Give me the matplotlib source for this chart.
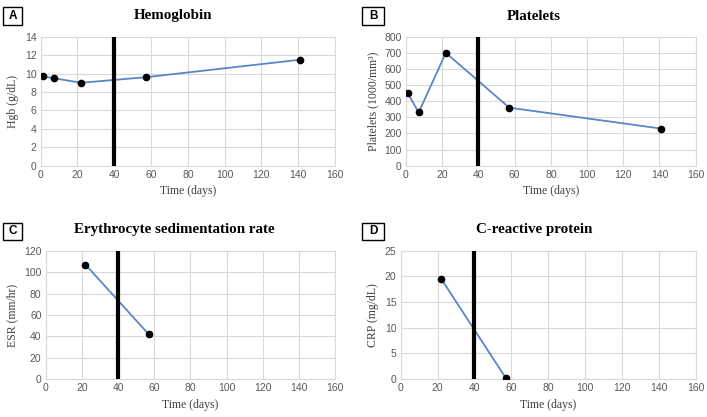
import matplotlib
matplotlib.use("Agg")
import matplotlib.pyplot as plt
from matplotlib.patches import Rectangle

# Data
hgb_days = [1, 7, 22, 57, 141]
hgb_vals = [9.7, 9.5, 9.0, 9.6, 11.5]
plt_days = [1, 7, 22, 57, 141]
plt_vals = [450, 330, 700, 360, 230]
esr_days = [22, 57]
esr_vals = [107, 42]
crp_days = [22, 57]
crp_vals = [19.5, 0.2]
event_day = 40
x_ticks = [0, 20, 40, 60, 80, 100, 120, 140, 160]

panels = [
    dict(letter="A", title="Hemoglobin", ylabel="Hgb (g/dL)", x=hgb_days, y=hgb_vals,
         yticks=[0, 2, 4, 6, 8, 10, 12, 14],
         rect=(40.7, 36.7, 335, 165.7), box=(3, 7, 22, 25), tpos=(173, 16)),
    dict(letter="B", title="Platelets", ylabel="Platelets (1000/mm³)", x=plt_days, y=plt_vals,
         yticks=[0, 100, 200, 300, 400, 500, 600, 700, 800],
         rect=(406, 36.7, 695.7, 165.7), box=(362, 7, 384, 25), tpos=(534, 16)),
    dict(letter="C", title="Erythrocyte sedimentation rate", ylabel="ESR (mm/hr)", x=esr_days, y=esr_vals,
         yticks=[0, 20, 40, 60, 80, 100, 120],
         rect=(45.7, 250.7, 335, 379.3), box=(3, 223, 22, 240), tpos=(174, 229)),
    dict(letter="D", title="C-reactive protein", ylabel="CRP (mg/dL)", x=crp_days, y=crp_vals,
         yticks=[0, 5, 10, 15, 20, 25],
         rect=(400.7, 250.7, 695.7, 379), box=(362, 223, 384, 240), tpos=(534, 229)),
]

W, H = 707, 417
fig = plt.figure(figsize=(W / 100, H / 100), dpi=100)
fig.patch.set_facecolor("white")

serif = "Liberation Serif"
sans = "Liberation Sans"
grid_c = "#d9d9d9"
tick_c = "#595959"
line_c = "#5b86c6"

for p in panels:
    x0, y0, x1, y1 = p["rect"]
    ax = fig.add_axes([x0 / W, 1 - y1 / H, (x1 - x0) / W, (y1 - y0) / H])
    ax.plot(p["x"], p["y"], color=line_c, lw=1.3, zorder=3)
    ax.plot(p["x"], p["y"], "o", color="black", ms=4.5, zorder=4)
    ax.axvline(event_day, color="black", lw=3, zorder=5)
    ax.set_xlim(0, 160)
    ax.set_ylim(p["yticks"][0], p["yticks"][-1])
    ax.set_xticks(x_ticks)
    ax.set_yticks(p["yticks"])
    ax.grid(True, color=grid_c, lw=0.8)
    ax.set_axisbelow(True)
    for s in ax.spines.values():
        s.set_color(grid_c)
        s.set_linewidth(0.8)
    ax.tick_params(length=0, labelsize=7.5, labelcolor=tick_c, pad=3)
    for lab in ax.get_xticklabels() + ax.get_yticklabels():
        lab.set_fontfamily(sans)
    ax.set_xlabel("Time (days)", fontfamily=serif, fontsize=8.5, color="#404040", labelpad=4)
    ax.set_ylabel(p["ylabel"], fontfamily=serif, fontsize=8.5, color="#404040", labelpad=4)
    tx, ty = p["tpos"]
    fig.text(tx / W, 1 - ty / H, p["title"], ha="center", va="center",
             fontfamily=serif, fontsize=10.8, fontweight="bold")
    bx0, by0, bx1, by1 = p["box"]
    fig.patches.append(Rectangle((bx0 / W, 1 - by1 / H), (bx1 - bx0) / W, (by1 - by0) / H,
                                 transform=fig.transFigure, fill=False, edgecolor="black", lw=1))
    fig.text((bx0 + bx1) / 2 / W, 1 - (by0 + by1) / 2 / H, p["letter"], ha="center", va="center",
             fontfamily=sans, fontsize=8.5, fontweight="bold")

fig.savefig("out.png", dpi=100, facecolor="white")
